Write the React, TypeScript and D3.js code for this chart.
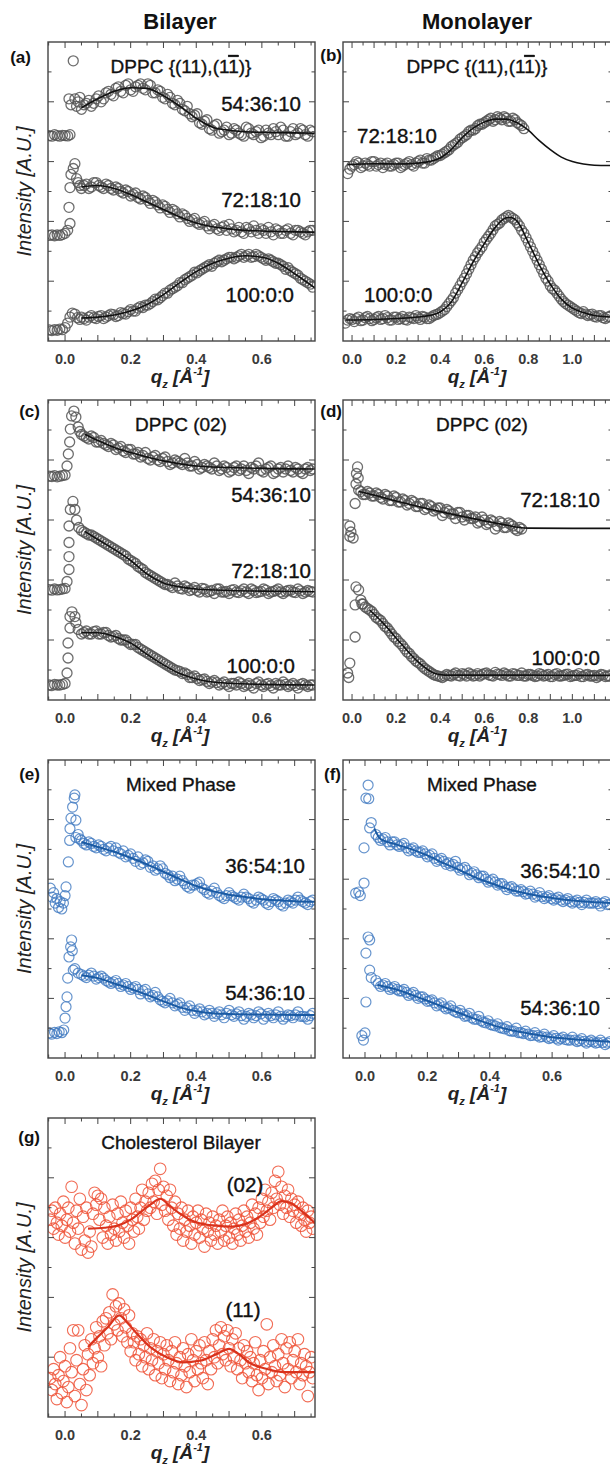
import React from "react"
import * as d3 from "d3"

type Pt = [number, number]

// sampling grids of the measured rods (second reading sits half a step later)
const STEP_L = 0.015
const STEP_R = 0.02

// ---------- (a) Bilayer DPPC {(11),(1-1)}
const a54Pre: Pt[] = [[-0.048, 6.87], [-0.04, 6.85], [-0.032, 6.9], [-0.024, 6.87], [-0.016, 6.85], [-0.008, 6.88], [0, 6.87], [0.008, 6.86], [0.015, 6.9], [0.012, 8.1], [0.018, 7.9], [0.025, 9.37], [0.03, 8.1], [0.035, 7.85], [0.04, 8.0], [0.045, 8.15]]
const a54Band = [7.75, 7.95, 7.85, 8.1, 8.0, 8.3, 8.25, 8.45, 8.35, 8.55, 8.4, 8.5, 8.6, 8.4, 8.55, 8.3, 8.35, 8.1, 8.15, 7.9, 7.95, 7.7, 7.6, 7.55, 7.3, 7.35, 7.1, 7.2, 6.95, 7.05, 6.9, 7.1, 6.95, 6.85, 7.1, 6.9, 7.05, 6.85, 6.95, 7.1, 6.9, 7.05, 6.85, 7.1, 6.95, 7.05, 6.85, 7.0]
const a54Mid = [7.9, 8.05, 7.95, 8.2, 8.1, 8.35, 8.2, 8.5, 8.3, 8.6, 8.35, 8.55, 8.45, 8.6, 8.3, 8.4, 8.15, 8.25, 7.95, 8.05, 7.75, 7.85, 7.5, 7.6, 7.25, 7.4, 7.05, 7.25, 7.0, 7.15, 6.95, 7.05, 6.9, 7.15, 6.95, 7.0, 6.8, 7.05, 6.9, 7.0, 7.15, 6.85, 7.0, 6.9, 7.1, 6.9, 7.05]
const a54Fit: Pt[] = [[0.05, 7.8], [0.1, 8.1], [0.15, 8.35], [0.2, 8.47], [0.25, 8.45], [0.3, 8.2], [0.35, 7.85], [0.4, 7.45], [0.45, 7.15], [0.5, 7.05], [0.55, 7.0], [0.6, 6.98], [0.65, 6.97], [0.7, 6.96], [0.765, 6.95]]

const a72Pre: Pt[] = [[-0.048, 3.53], [-0.04, 3.55], [-0.032, 3.52], [-0.024, 3.55], [-0.016, 3.53], [-0.008, 3.56], [0, 3.6], [0.008, 3.7], [0.015, 3.93], [0.012, 4.47], [0.015, 5.13], [0.018, 5.57], [0.025, 5.77], [0.03, 5.93], [0.035, 5.43], [0.04, 5.3], [0.045, 5.2]]
const a72Band = [5.1, 5.25, 5.15, 5.3, 5.15, 5.25, 5.1, 5.15, 5.0, 5.05, 4.85, 4.95, 4.75, 4.8, 4.6, 4.65, 4.45, 4.5, 4.3, 4.35, 4.15, 4.2, 4.0, 4.1, 3.9, 4.0, 3.75, 3.9, 3.7, 3.85, 3.9, 3.65, 3.8, 3.6, 3.75, 3.85, 3.6, 3.7, 3.8, 3.55, 3.7, 3.6, 3.75, 3.55, 3.7, 3.6, 3.65, 3.7]
const a72Mid = [5.2, 5.1, 5.3, 5.2, 5.1, 5.2, 5.05, 5.1, 4.95, 5.0, 4.9, 4.8, 4.85, 4.7, 4.7, 4.55, 4.55, 4.4, 4.4, 4.25, 4.25, 4.1, 4.05, 3.95, 3.95, 3.85, 3.85, 3.75, 3.8, 3.7, 3.75, 3.7, 3.65, 3.8, 3.65, 3.7, 3.75, 3.6, 3.65, 3.75, 3.6, 3.7, 3.6, 3.7, 3.65, 3.55, 3.7]
const a72Fit: Pt[] = [[0.05, 5.15], [0.1, 5.2], [0.15, 5.1], [0.2, 4.9], [0.25, 4.65], [0.3, 4.4], [0.35, 4.15], [0.4, 3.95], [0.45, 3.82], [0.5, 3.75], [0.55, 3.7], [0.6, 3.68], [0.65, 3.66], [0.7, 3.65], [0.765, 3.64]]

const a100Pre: Pt[] = [[-0.048, 0.37], [-0.04, 0.35], [-0.032, 0.38], [-0.024, 0.36], [-0.016, 0.4], [-0.008, 0.38], [0, 0.45], [0.008, 0.6], [0.015, 0.8], [0.022, 0.93], [0.03, 0.9], [0.038, 0.78], [0.045, 0.72]]
const a100Band = [0.8, 0.7, 0.85, 0.75, 0.85, 0.8, 0.9, 0.82, 0.95, 0.9, 1.05, 1.0, 1.15, 1.2, 1.25, 1.4, 1.45, 1.6, 1.7, 1.8, 1.95, 2.05, 2.15, 2.3, 2.35, 2.45, 2.55, 2.6, 2.7, 2.7, 2.8, 2.75, 2.85, 2.8, 2.9, 2.82, 2.85, 2.75, 2.75, 2.65, 2.6, 2.5, 2.45, 2.3, 2.2, 2.05, 1.95, 1.8]
const a100Mid = [0.75, 0.8, 0.78, 0.82, 0.75, 0.85, 0.88, 0.85, 0.92, 0.98, 1.0, 1.1, 1.12, 1.2, 1.32, 1.38, 1.52, 1.6, 1.75, 1.85, 1.95, 2.1, 2.2, 2.28, 2.4, 2.5, 2.5, 2.65, 2.65, 2.75, 2.8, 2.8, 2.9, 2.85, 2.8, 2.9, 2.8, 2.7, 2.7, 2.6, 2.55, 2.4, 2.35, 2.25, 2.1, 2.0, 1.9]
const a100Fit: Pt[] = [[0.05, 0.77], [0.1, 0.8], [0.15, 0.87], [0.2, 1.0], [0.25, 1.22], [0.3, 1.55], [0.35, 1.95], [0.4, 2.32], [0.45, 2.6], [0.5, 2.77], [0.55, 2.85], [0.6, 2.8], [0.65, 2.6], [0.7, 2.25], [0.765, 1.75]]

// ---------- (b) Monolayer DPPC {(11),(1-1)}
const b72Band = [5.6, 5.85, 6.0, 5.8, 5.95, 5.85, 6.0, 5.9, 5.8, 5.95, 5.85, 5.95, 5.8, 5.9, 6.0, 5.85, 6.0, 5.95, 6.1, 6.05, 6.15, 6.2, 6.3, 6.4, 6.55, 6.65, 6.8, 6.9, 7.05, 7.1, 7.25, 7.3, 7.4, 7.35, 7.5, 7.4, 7.45, 7.35, 7.4, 7.25, 7.1]
const b72Mid = [5.75, 5.9, 5.95, 5.85, 5.9, 6.0, 5.85, 5.95, 5.9, 5.85, 5.9, 5.95, 5.85, 5.95, 5.9, 5.95, 6.05, 5.95, 6.05, 6.1, 6.2, 6.25, 6.35, 6.5, 6.6, 6.75, 6.85, 7.0, 7.05, 7.2, 7.25, 7.35, 7.45, 7.4, 7.45, 7.5, 7.35, 7.45, 7.3, 7.2]
const b72Fit: Pt[] = [[-0.02, 5.9], [0.1, 5.93], [0.2, 5.92], [0.3, 5.95], [0.35, 6.0], [0.4, 6.12], [0.45, 6.4], [0.5, 6.8], [0.55, 7.12], [0.6, 7.32], [0.65, 7.42], [0.7, 7.42], [0.75, 7.3], [0.8, 7.05], [0.85, 6.7], [0.9, 6.4], [0.95, 6.15], [1.0, 6.0], [1.05, 5.92], [1.1, 5.88], [1.18, 5.87]]

const b100Band = [0.6, 0.75, 0.65, 0.8, 0.7, 0.82, 0.68, 0.78, 0.72, 0.85, 0.7, 0.8, 0.72, 0.82, 0.7, 0.78, 0.85, 0.72, 0.8, 0.75, 0.85, 0.9, 1.0, 1.15, 1.35, 1.6, 1.85, 2.1, 2.4, 2.7, 2.95, 3.15, 3.4, 3.6, 3.85, 3.95, 4.1, 4.2, 4.1, 3.95, 3.7, 3.45, 3.15, 2.85, 2.55, 2.25, 2.0, 1.75, 1.6, 1.4, 1.25, 1.15, 1.05, 0.95, 0.98, 0.85, 0.9, 0.8, 0.85, 0.75, 0.82]
const b100Mid = [0.7, 0.72, 0.75, 0.68, 0.78, 0.75, 0.72, 0.82, 0.75, 0.78, 0.7, 0.8, 0.75, 0.72, 0.8, 0.75, 0.78, 0.82, 0.75, 0.8, 0.88, 0.95, 1.05, 1.25, 1.45, 1.72, 1.98, 2.25, 2.55, 2.82, 3.05, 3.3, 3.5, 3.72, 3.9, 4.05, 4.15, 4.15, 4.05, 3.85, 3.6, 3.3, 3.0, 2.7, 2.4, 2.1, 1.85, 1.7, 1.5, 1.32, 1.2, 1.1, 1.0, 0.92, 0.9, 0.88, 0.82, 0.85, 0.78, 0.8]
const b100Fit: Pt[] = [[-0.03, 0.7], [0.1, 0.72], [0.2, 0.75], [0.3, 0.8], [0.35, 0.85], [0.4, 0.97], [0.45, 1.3], [0.5, 1.95], [0.55, 2.65], [0.6, 3.25], [0.65, 3.8], [0.7, 4.12], [0.72, 4.13], [0.75, 4.0], [0.8, 3.3], [0.85, 2.55], [0.9, 1.9], [0.95, 1.4], [1.0, 1.1], [1.05, 0.95], [1.1, 0.85], [1.18, 0.8]]

// ---------- (c) Bilayer DPPC (02)
const c54Pre: Pt[] = [[-0.048, 7.46], [-0.04, 7.45], [-0.032, 7.48], [-0.024, 7.44], [-0.016, 7.46], [-0.008, 7.48], [0, 7.5], [0.006, 7.8], [0.01, 8.2], [0.014, 8.6], [0.016, 9.03], [0.02, 9.47], [0.027, 9.63], [0.033, 9.43], [0.04, 9.1], [0.045, 8.95]]
const c54Band = [8.85, 8.75, 8.8, 8.6, 8.65, 8.5, 8.55, 8.35, 8.45, 8.25, 8.35, 8.2, 8.1, 8.25, 8.0, 8.15, 7.95, 8.1, 7.85, 8.0, 7.9, 8.05, 7.8, 7.95, 7.7, 7.85, 7.75, 7.9, 7.65, 7.8, 7.6, 7.75, 7.65, 7.8, 7.55, 7.7, 7.9, 7.6, 7.75, 7.55, 7.7, 7.6, 7.8, 7.6, 7.7, 7.55, 7.75, 7.7]
const c54Mid = [8.8, 8.7, 8.75, 8.6, 8.55, 8.45, 8.5, 8.4, 8.3, 8.35, 8.2, 8.25, 8.15, 8.05, 8.1, 8.0, 8.05, 7.95, 7.9, 7.95, 7.85, 7.9, 7.8, 7.85, 7.75, 7.8, 7.7, 7.8, 7.7, 7.75, 7.65, 7.8, 7.7, 7.65, 7.75, 7.8, 7.65, 7.7, 7.8, 7.6, 7.75, 7.7, 7.65, 7.75, 7.6, 7.7, 7.65]
const c54Fit: Pt[] = [[0.06, 8.86], [0.1, 8.65], [0.15, 8.42], [0.2, 8.25], [0.25, 8.1], [0.3, 7.97], [0.35, 7.87], [0.4, 7.8], [0.5, 7.75], [0.6, 7.72], [0.765, 7.7]]

const c72Pre: Pt[] = [[-0.048, 3.68], [-0.04, 3.66], [-0.032, 3.7], [-0.024, 3.67], [-0.016, 3.68], [-0.008, 3.7], [0, 3.72], [0.006, 3.95], [0.012, 4.35], [0.012, 4.78], [0.012, 5.25], [0.012, 5.8], [0.016, 6.35], [0.024, 6.62], [0.03, 6.35], [0.035, 6.0], [0.042, 5.75]]
const c72Band = [5.65, 5.55, 5.5, 5.4, 5.3, 5.2, 5.1, 5.0, 4.9, 4.8, 4.65, 4.55, 4.4, 4.25, 4.15, 4.05, 3.95, 3.85, 3.8, 3.9, 3.72, 3.8, 3.65, 3.75, 3.6, 3.7, 3.62, 3.55, 3.7, 3.6, 3.55, 3.68, 3.58, 3.7, 3.55, 3.65, 3.6, 3.7, 3.55, 3.62, 3.7, 3.55, 3.65, 3.6, 3.7, 3.55, 3.65, 3.6]
const c72Mid = [5.6, 5.5, 5.45, 5.35, 5.25, 5.15, 5.05, 4.95, 4.85, 4.7, 4.6, 4.45, 4.35, 4.2, 4.1, 4.0, 3.9, 3.85, 3.75, 3.8, 3.7, 3.75, 3.68, 3.65, 3.72, 3.6, 3.65, 3.7, 3.6, 3.62, 3.66, 3.6, 3.64, 3.6, 3.7, 3.58, 3.62, 3.66, 3.6, 3.65, 3.6, 3.62, 3.66, 3.58, 3.64, 3.6, 3.62]
const c72Fit: Pt[] = [[0.06, 5.62], [0.1, 5.35], [0.15, 5.02], [0.2, 4.65], [0.25, 4.2], [0.3, 3.9], [0.35, 3.77], [0.4, 3.7], [0.5, 3.65], [0.6, 3.63], [0.765, 3.61]]

const c100Pre: Pt[] = [[-0.048, 0.5], [-0.04, 0.48], [-0.032, 0.52], [-0.024, 0.5], [-0.016, 0.5], [-0.008, 0.52], [0, 0.55], [0.006, 0.9], [0.009, 1.4], [0.009, 1.9], [0.015, 2.4], [0.015, 2.78], [0.021, 2.94], [0.03, 2.78], [0.033, 2.58], [0.04, 2.35]]
const c100Band = [2.2, 2.3, 2.2, 2.3, 2.2, 2.25, 2.1, 2.15, 2.0, 2.0, 1.85, 1.85, 1.7, 1.6, 1.5, 1.4, 1.3, 1.2, 1.1, 1.0, 0.95, 0.9, 0.75, 0.8, 0.65, 0.7, 0.55, 0.65, 0.5, 0.6, 0.45, 0.55, 0.6, 0.45, 0.55, 0.4, 0.6, 0.45, 0.55, 0.4, 0.5, 0.6, 0.45, 0.55, 0.4, 0.55, 0.45, 0.5]
const c100Mid = [2.25, 2.2, 2.28, 2.2, 2.25, 2.15, 2.12, 2.05, 2.0, 1.92, 1.85, 1.75, 1.65, 1.55, 1.45, 1.35, 1.25, 1.15, 1.05, 0.98, 0.88, 0.85, 0.75, 0.72, 0.68, 0.62, 0.6, 0.58, 0.55, 0.52, 0.55, 0.5, 0.55, 0.5, 0.48, 0.55, 0.5, 0.52, 0.48, 0.55, 0.5, 0.52, 0.5, 0.48, 0.52, 0.5, 0.5]
const c100Fit: Pt[] = [[0.05, 2.24], [0.1, 2.24], [0.15, 2.12], [0.2, 1.9], [0.25, 1.52], [0.3, 1.17], [0.35, 0.88], [0.4, 0.7], [0.45, 0.6], [0.5, 0.56], [0.6, 0.52], [0.765, 0.5]]

// ---------- (d) Monolayer DPPC (02)
const d72Pre: Pt[] = [[-0.01, 5.45], [-0.01, 5.8], [0.005, 5.4], [0.014, 6.55], [0.018, 7.2], [0.02, 7.55], [0.025, 7.77], [0.028, 7.4], [-0.005, 5.6]]
const d72Band = [7.0, 6.85, 6.95, 6.8, 6.9, 6.75, 6.85, 6.65, 6.8, 6.6, 6.7, 6.5, 6.65, 6.45, 6.55, 6.35, 6.5, 6.3, 6.4, 6.15, 6.35, 6.2, 6.05, 6.25, 6.0, 6.15, 6.05, 5.9, 6.1, 5.85, 6.0, 5.7, 5.95, 5.75, 5.9, 5.8, 5.65, 5.7]
const d72Mid = [6.95, 6.85, 6.9, 6.8, 6.85, 6.7, 6.8, 6.65, 6.75, 6.6, 6.65, 6.55, 6.6, 6.45, 6.55, 6.4, 6.45, 6.35, 6.4, 6.25, 6.3, 6.2, 6.25, 6.1, 6.15, 6.05, 6.1, 5.95, 6.0, 5.9, 5.95, 5.8, 5.9, 5.75, 5.85, 5.7, 5.75]
const d72Fit: Pt[] = [[0.03, 6.95], [0.1, 6.83], [0.2, 6.63], [0.3, 6.45], [0.4, 6.28], [0.5, 6.12], [0.6, 5.97], [0.7, 5.83], [0.76, 5.75], [0.8, 5.73], [1.0, 5.72], [1.18, 5.72]]

const d100Pre: Pt[] = [[-0.02, 0.9], [-0.015, 0.75], [-0.01, 1.23], [0.014, 2.1], [0.014, 3.17], [0.018, 3.77], [0.03, 3.67], [0.04, 3.33], [0.045, 3.2]]
const d100Band = [3.2, 3.05, 2.95, 2.75, 2.65, 2.45, 2.3, 2.1, 1.95, 1.8, 1.6, 1.45, 1.3, 1.2, 1.05, 0.95, 0.85, 0.8, 0.75, 0.85, 0.8, 0.9, 0.8, 0.85, 0.9, 0.8, 0.88, 0.85, 0.9, 0.82, 0.92, 0.85, 0.9, 0.8, 0.88, 0.82, 0.9, 0.8, 0.85, 0.78, 0.88, 0.8, 0.85, 0.78, 0.88, 0.8, 0.85, 0.78, 0.82, 0.88, 0.78, 0.85, 0.8, 0.75, 0.85, 0.78, 0.8]
const d100Mid = [3.1, 3.0, 2.85, 2.7, 2.55, 2.4, 2.2, 2.05, 1.88, 1.7, 1.55, 1.38, 1.25, 1.12, 1.0, 0.9, 0.82, 0.78, 0.8, 0.82, 0.85, 0.82, 0.88, 0.8, 0.85, 0.82, 0.8, 0.88, 0.84, 0.8, 0.86, 0.82, 0.85, 0.8, 0.86, 0.82, 0.8, 0.85, 0.82, 0.8, 0.85, 0.82, 0.78, 0.85, 0.8, 0.82, 0.86, 0.8, 0.82, 0.78, 0.84, 0.8, 0.82, 0.8, 0.84, 0.8]
const d100Fit: Pt[] = [[0.08, 3.0], [0.14, 2.57], [0.22, 1.9], [0.3, 1.27], [0.37, 0.9], [0.42, 0.83], [0.6, 0.83], [0.8, 0.83], [1.0, 0.82], [1.18, 0.82]]

// ---------- (e) Bilayer mixed phase
const e36Pre: Pt[] = [[-0.045, 5.7], [-0.04, 5.4], [-0.035, 5.55], [-0.03, 5.2], [-0.025, 5.35], [-0.02, 5.05], [-0.015, 5.25], [-0.01, 5.0], [-0.005, 5.2], [0, 5.45], [0.003, 5.74], [0.01, 6.58], [0.014, 7.3], [0.015, 7.7], [0.018, 8.05], [0.023, 8.42], [0.028, 8.72], [0.03, 8.83], [0.033, 7.98], [0.033, 7.4], [0.04, 7.5], [0.045, 7.35]]
const e36Band = [7.3, 7.15, 7.2, 7.05, 7.1, 6.95, 7.1, 7.05, 6.85, 6.75, 6.85, 6.6, 6.5, 6.65, 6.4, 6.3, 6.45, 6.2, 6.05, 5.95, 6.1, 5.85, 5.7, 5.8, 5.9, 5.65, 5.5, 5.7, 5.45, 5.35, 5.55, 5.4, 5.3, 5.5, 5.35, 5.2, 5.4, 5.3, 5.15, 5.35, 5.25, 5.1, 5.3, 5.2, 5.4, 5.25, 5.15, 5.3]
const e36Mid = [7.2, 7.25, 7.1, 7.15, 7.0, 7.05, 6.95, 6.9, 6.95, 6.8, 6.7, 6.75, 6.55, 6.6, 6.45, 6.35, 6.35, 6.15, 6.1, 6.0, 5.95, 5.75, 5.8, 5.85, 5.7, 5.55, 5.6, 5.55, 5.4, 5.45, 5.45, 5.35, 5.4, 5.4, 5.25, 5.3, 5.35, 5.2, 5.25, 5.3, 5.15, 5.2, 5.25, 5.3, 5.3, 5.2, 5.25]
const e36Fit: Pt[] = [[0.05, 7.25], [0.1, 7.08], [0.15, 6.92], [0.2, 6.72], [0.25, 6.5], [0.3, 6.25], [0.35, 6.0], [0.4, 5.77], [0.45, 5.6], [0.5, 5.48], [0.55, 5.4], [0.6, 5.33], [0.65, 5.29], [0.7, 5.26], [0.765, 5.24]]

const e54Pre: Pt[] = [[-0.048, 0.84], [-0.04, 0.8], [-0.032, 0.86], [-0.025, 0.82], [-0.018, 0.88], [-0.01, 0.85], [-0.004, 0.94], [0, 1.34], [0.003, 1.72], [0.006, 2.05], [0.008, 2.68], [0.012, 3.39], [0.017, 3.73], [0.02, 3.96], [0.022, 3.6], [0.025, 2.95], [0.03, 3.0], [0.04, 2.85]]
const e54Band = [2.8, 2.7, 2.85, 2.65, 2.75, 2.6, 2.5, 2.6, 2.4, 2.5, 2.3, 2.4, 2.15, 2.3, 2.05, 2.2, 1.95, 1.85, 2.0, 1.75, 1.85, 1.6, 1.75, 1.5, 1.65, 1.45, 1.6, 1.4, 1.55, 1.35, 1.6, 1.4, 1.55, 1.3, 1.5, 1.35, 1.55, 1.3, 1.5, 1.35, 1.55, 1.3, 1.45, 1.35, 1.55, 1.4, 1.3, 1.5]
const e54Mid = [2.75, 2.78, 2.75, 2.7, 2.68, 2.55, 2.55, 2.5, 2.45, 2.4, 2.35, 2.3, 2.25, 2.15, 2.1, 2.05, 1.9, 1.92, 1.85, 1.8, 1.7, 1.68, 1.6, 1.58, 1.55, 1.5, 1.5, 1.48, 1.45, 1.5, 1.45, 1.48, 1.42, 1.4, 1.45, 1.42, 1.48, 1.4, 1.42, 1.45, 1.4, 1.38, 1.42, 1.45, 1.4, 1.38, 1.42]
const e54Fit: Pt[] = [[0.05, 2.78], [0.1, 2.68], [0.15, 2.5], [0.2, 2.32], [0.25, 2.12], [0.3, 1.9], [0.35, 1.7], [0.4, 1.57], [0.45, 1.5], [0.5, 1.48], [0.6, 1.46], [0.765, 1.44]]

// ---------- (f) Monolayer mixed phase
const f36Pre: Pt[] = [[0.01, 9.16], [0.003, 8.72], [0.012, 8.7], [0.015, 7.72], [-0.003, 7.05], [-0.003, 5.87], [-0.02, 5.57], [-0.03, 5.53], [-0.015, 5.45], [0.02, 7.9]]
const f36Band = [7.5, 7.3, 7.4, 7.15, 7.25, 7.1, 7.2, 6.95, 7.05, 6.9, 6.95, 6.75, 6.85, 6.6, 6.7, 6.5, 6.45, 6.6, 6.3, 6.4, 6.15, 6.25, 6.05, 6.1, 5.9, 6.0, 5.8, 5.85, 5.65, 5.75, 5.6, 5.65, 5.5, 5.6, 5.4, 5.55, 5.35, 5.45, 5.3, 5.4, 5.25, 5.35, 5.2, 5.3, 5.15, 5.3, 5.2, 5.25, 5.1, 5.25, 5.15]
const f36Mid = [7.4, 7.35, 7.25, 7.25, 7.15, 7.15, 7.05, 7.0, 6.95, 6.9, 6.85, 6.8, 6.7, 6.65, 6.6, 6.55, 6.5, 6.4, 6.35, 6.3, 6.2, 6.15, 6.1, 6.0, 5.95, 5.9, 5.85, 5.75, 5.72, 5.68, 5.6, 5.58, 5.52, 5.5, 5.45, 5.42, 5.4, 5.35, 5.35, 5.3, 5.3, 5.25, 5.25, 5.22, 5.22, 5.2, 5.2, 5.18, 5.2, 5.15]
const f36Fit: Pt[] = [[0.03, 7.7], [0.05, 7.35], [0.1, 7.17], [0.15, 7.0], [0.2, 6.8], [0.25, 6.55], [0.3, 6.32], [0.35, 6.08], [0.4, 5.88], [0.45, 5.7], [0.5, 5.56], [0.55, 5.45], [0.6, 5.37], [0.65, 5.3], [0.7, 5.25], [0.795, 5.2]]

const f54Pre: Pt[] = [[-0.005, 0.6], [0, 0.84], [0.003, 1.88], [0.003, 3.52], [0.015, 3.96], [0.01, 4.06], [0.015, 2.95], [0.02, 2.7], [-0.01, 0.75]]
const f54Band = [2.6, 2.4, 2.5, 2.3, 2.4, 2.25, 2.3, 2.1, 2.2, 2.0, 2.05, 1.9, 1.95, 1.75, 1.85, 1.65, 1.75, 1.55, 1.6, 1.4, 1.5, 1.3, 1.4, 1.2, 1.25, 1.1, 1.15, 1.0, 1.05, 0.9, 1.0, 0.85, 0.9, 0.75, 0.85, 0.7, 0.8, 0.65, 0.75, 0.6, 0.7, 0.6, 0.7, 0.55, 0.65, 0.5, 0.6, 0.5, 0.6, 0.45, 0.55]
const f54Mid = [2.5, 2.45, 2.4, 2.35, 2.3, 2.25, 2.2, 2.15, 2.1, 2.05, 1.98, 1.92, 1.85, 1.8, 1.72, 1.68, 1.6, 1.52, 1.48, 1.42, 1.35, 1.3, 1.25, 1.18, 1.12, 1.08, 1.02, 0.98, 0.92, 0.9, 0.85, 0.82, 0.8, 0.76, 0.75, 0.72, 0.7, 0.68, 0.66, 0.65, 0.62, 0.6, 0.6, 0.58, 0.56, 0.55, 0.54, 0.52, 0.52, 0.5]
const f54Fit: Pt[] = [[0.04, 2.45], [0.1, 2.3], [0.15, 2.12], [0.2, 1.92], [0.25, 1.72], [0.3, 1.52], [0.35, 1.32], [0.4, 1.14], [0.45, 0.98], [0.5, 0.87], [0.55, 0.78], [0.6, 0.7], [0.65, 0.65], [0.7, 0.6], [0.795, 0.54]]

// ---------- (g) Cholesterol bilayer
const g02Pts: Pt[] = [[-0.045, 6.6], [-0.04, 6.9], [-0.035, 6.3], [-0.03, 7.0], [-0.025, 6.5], [-0.02, 6.1], [-0.015, 6.8], [-0.01, 6.4], [-0.005, 7.2], [0, 6.0], [0.005, 6.6], [0.01, 7.0], [0.015, 6.2], [0.02, 7.7], [0.025, 6.5], [0.03, 5.8], [0.035, 6.9], [0.04, 6.3], [0.045, 7.3], [0.05, 5.6], [0.055, 6.7], [0.06, 5.9], [0.065, 7.0], [0.07, 5.5], [0.075, 6.2], [0.08, 5.7], [0.085, 6.8], [0.09, 7.5], [0.095, 7.1], [0.1, 7.4], [0.105, 6.6], [0.11, 7.3], [0.115, 6.0], [0.12, 7.0], [0.125, 6.4], [0.13, 5.8], [0.135, 6.7], [0.14, 6.1], [0.145, 7.1], [0.15, 6.3], [0.155, 5.9], [0.16, 6.8], [0.165, 6.2], [0.17, 7.2], [0.175, 6.5], [0.18, 6.0], [0.185, 6.9], [0.19, 6.4], [0.195, 5.8], [0.2, 7.0], [0.205, 6.6], [0.21, 6.2], [0.215, 7.3], [0.22, 6.7], [0.225, 6.3], [0.23, 7.0], [0.235, 7.6], [0.24, 6.6], [0.245, 7.2], [0.25, 6.9], [0.255, 7.5], [0.26, 7.0], [0.265, 7.8], [0.27, 7.2], [0.275, 7.9], [0.28, 6.8], [0.285, 7.6], [0.29, 8.3], [0.295, 7.1], [0.3, 7.7], [0.305, 6.9], [0.31, 7.4], [0.315, 6.6], [0.32, 7.6], [0.325, 7.0], [0.33, 6.4], [0.335, 7.2], [0.34, 6.1], [0.345, 6.8], [0.35, 6.3], [0.355, 7.0], [0.36, 5.9], [0.365, 6.6], [0.37, 6.2], [0.375, 6.9], [0.38, 6.4], [0.385, 5.8], [0.39, 6.7], [0.395, 6.1], [0.4, 6.5], [0.405, 6.9], [0.41, 6.0], [0.415, 6.6], [0.42, 6.3], [0.425, 5.7], [0.43, 6.8], [0.435, 6.2], [0.44, 6.5], [0.445, 5.9], [0.45, 6.7], [0.455, 6.1], [0.46, 6.4], [0.465, 5.8], [0.47, 6.6], [0.475, 6.2], [0.48, 6.9], [0.485, 5.9], [0.49, 6.4], [0.495, 6.7], [0.5, 6.0], [0.505, 6.5], [0.51, 5.8], [0.515, 6.3], [0.52, 6.8], [0.525, 6.1], [0.53, 6.6], [0.535, 5.9], [0.54, 6.4], [0.545, 6.9], [0.55, 6.2], [0.555, 6.7], [0.56, 6.0], [0.565, 6.5], [0.57, 7.1], [0.575, 6.3], [0.58, 6.8], [0.585, 6.1], [0.59, 7.0], [0.595, 6.5], [0.6, 7.3], [0.605, 6.7], [0.61, 7.6], [0.615, 6.9], [0.62, 7.2], [0.625, 6.6], [0.63, 7.5], [0.635, 7.0], [0.64, 7.9], [0.645, 7.3], [0.65, 8.2], [0.655, 7.1], [0.66, 7.7], [0.665, 6.8], [0.67, 7.4], [0.675, 7.0], [0.68, 7.6], [0.685, 6.7], [0.69, 7.3], [0.695, 6.9], [0.7, 7.1], [0.705, 6.5], [0.71, 7.2], [0.715, 6.8], [0.72, 6.4], [0.725, 7.0], [0.73, 6.6], [0.735, 6.2], [0.74, 6.9], [0.745, 6.5], [0.75, 6.7], [0.755, 6.3]]
const g02Fit: Pt[] = [[0.07, 6.3], [0.12, 6.33], [0.16, 6.4], [0.2, 6.6], [0.23, 6.85], [0.26, 7.1], [0.29, 7.3], [0.32, 7.05], [0.35, 6.8], [0.38, 6.6], [0.41, 6.48], [0.46, 6.4], [0.51, 6.37], [0.55, 6.45], [0.6, 6.75], [0.63, 7.0], [0.66, 7.22], [0.69, 7.15], [0.72, 6.9], [0.765, 6.45]]

const g11Pts: Pt[] = [[-0.045, 1.3], [-0.04, 0.9], [-0.035, 1.6], [-0.03, 1.1], [-0.025, 0.6], [-0.02, 1.4], [-0.015, 2.0], [-0.01, 0.8], [-0.005, 1.2], [0, 1.7], [0.005, 0.5], [0.01, 1.0], [0.015, 2.3], [0.02, 1.5], [0.025, 2.9], [0.03, 0.7], [0.035, 1.9], [0.04, 2.9], [0.045, 1.1], [0.05, 0.4], [0.055, 1.6], [0.06, 2.4], [0.065, 0.9], [0.07, 2.1], [0.075, 1.4], [0.08, 2.6], [0.085, 1.8], [0.09, 2.3], [0.095, 3.0], [0.1, 2.0], [0.105, 2.7], [0.11, 1.7], [0.115, 3.2], [0.12, 2.4], [0.125, 3.3], [0.13, 2.8], [0.135, 3.5], [0.14, 2.6], [0.145, 4.1], [0.15, 3.1], [0.155, 3.7], [0.16, 2.9], [0.165, 3.8], [0.17, 3.3], [0.175, 2.7], [0.18, 3.6], [0.185, 3.0], [0.19, 2.5], [0.195, 3.4], [0.2, 2.2], [0.205, 2.8], [0.21, 2.5], [0.215, 1.9], [0.22, 2.7], [0.225, 2.1], [0.23, 2.6], [0.235, 1.7], [0.24, 2.4], [0.245, 2.0], [0.25, 2.8], [0.255, 1.6], [0.26, 2.3], [0.265, 1.9], [0.27, 2.6], [0.275, 1.4], [0.28, 2.2], [0.285, 1.8], [0.29, 2.5], [0.295, 1.3], [0.3, 2.1], [0.305, 1.6], [0.31, 2.4], [0.315, 1.9], [0.32, 1.2], [0.325, 2.2], [0.33, 1.5], [0.335, 2.5], [0.34, 1.8], [0.345, 1.1], [0.35, 2.0], [0.355, 1.4], [0.36, 2.3], [0.365, 1.7], [0.37, 1.0], [0.375, 2.1], [0.38, 1.5], [0.385, 2.6], [0.39, 1.9], [0.395, 1.2], [0.4, 2.2], [0.405, 1.6], [0.41, 2.4], [0.415, 1.8], [0.42, 1.3], [0.425, 2.5], [0.43, 1.9], [0.435, 1.1], [0.44, 2.2], [0.445, 1.6], [0.45, 2.6], [0.455, 2.0], [0.46, 2.9], [0.465, 1.8], [0.47, 2.4], [0.475, 3.0], [0.48, 2.1], [0.485, 2.7], [0.49, 1.9], [0.495, 2.9], [0.5, 2.3], [0.505, 1.7], [0.51, 2.6], [0.515, 2.0], [0.52, 2.8], [0.525, 1.6], [0.53, 2.3], [0.535, 1.9], [0.54, 1.3], [0.545, 2.4], [0.55, 1.8], [0.555, 2.2], [0.56, 1.5], [0.565, 2.0], [0.57, 1.2], [0.575, 1.8], [0.58, 2.5], [0.585, 1.4], [0.59, 0.9], [0.595, 1.9], [0.6, 1.3], [0.605, 2.2], [0.61, 1.6], [0.615, 3.1], [0.62, 1.1], [0.625, 2.0], [0.63, 1.5], [0.635, 2.4], [0.64, 1.7], [0.645, 1.2], [0.65, 2.1], [0.655, 1.4], [0.66, 2.6], [0.665, 1.8], [0.67, 1.0], [0.675, 2.3], [0.68, 1.6], [0.685, 2.5], [0.69, 1.3], [0.695, 1.9], [0.7, 2.2], [0.705, 1.5], [0.71, 2.6], [0.715, 1.1], [0.72, 1.8], [0.725, 1.4], [0.73, 2.1], [0.735, 1.7], [0.74, 0.7], [0.745, 1.5], [0.75, 2.0], [0.755, 1.3]]
const g11Fit: Pt[] = [[0.07, 2.34], [0.1, 2.68], [0.13, 3.0], [0.165, 3.4], [0.19, 3.15], [0.21, 2.9], [0.26, 2.34], [0.31, 2.0], [0.36, 1.83], [0.41, 1.88], [0.465, 2.12], [0.5, 2.28], [0.53, 2.1], [0.56, 1.83], [0.61, 1.62], [0.67, 1.5], [0.765, 1.5]]

// ---------- helpers / layout
const grid = (q0: number, dq: number, vals: number[]): Pt[] => vals.map((v, i) => [q0 + i * dq, v])
const rod = (q0: number, dq: number, band: number[], mid: number[]): Pt[] => [...grid(q0, dq, band), ...grid(q0 + dq / 2, dq, mid)]

const FONT = "'Liberation Sans', Arial, Helvetica, sans-serif"
const GRAY = { pt: "#555", line: "#111", r: 5, sw: 1.3, lw: 1.6, op: 0.85 }
const BLUE = { pt: "#4079c0", line: "#1a5aa3", r: 5, sw: 1.2, lw: 2, op: 0.8 }
const RED = { pt: "#ef5237", line: "#d9321c", r: 5.8, sw: 1.1, lw: 2.2, op: 0.85 }

interface Lbl { t: string; x: number; y: number; a?: "start" | "middle" | "end" }
interface Series { pts: Pt[]; fit: Pt[] }
interface PanelDef {
  id: string
  x0: number; x1: number; y0: number; y1: number
  q: [number, number]
  qMax: number
  col: typeof GRAY
  series: Series[]
  title: string
  titleX: number
  bar?: boolean
  labels: Lbl[]
  yLabel?: boolean
  axisX: number
  tag: [number, number]
}

const LQ: [number, number] = [-0.052, 0.762]
const RQ: [number, number] = [-0.041, 1.18]

const panels: PanelDef[] = [
  {
    id: "a", x0: 48, x1: 315, y0: 42, y1: 341, q: LQ, qMax: 0.6, col: GRAY, yLabel: true, axisX: 180, tag: [31, 63],
    title: "DPPC {(11),(1", titleX: 181, bar: true,
    series: [
      { pts: [...a54Pre, ...rod(0.05, STEP_L, a54Band, a54Mid)], fit: a54Fit },
      { pts: [...a72Pre, ...rod(0.05, STEP_L, a72Band, a72Mid)], fit: a72Fit },
      { pts: [...a100Pre, ...rod(0.05, STEP_L, a100Band, a100Mid)], fit: a100Fit },
    ],
    labels: [{ t: "54:36:10", x: 301, y: 111, a: "end" }, { t: "72:18:10", x: 301, y: 207, a: "end" }, { t: "100:0:0", x: 294, y: 302, a: "end" }],
  },
  {
    id: "b", x0: 343, x1: 612, y0: 42, y1: 341, q: RQ, qMax: 1.0, col: GRAY, axisX: 477, tag: [342, 61],
    title: "DPPC {(11),(1", titleX: 477, bar: true,
    series: [
      { pts: rod(-0.02, STEP_R, b72Band, b72Mid), fit: b72Fit },
      { pts: rod(-0.03, STEP_R, b100Band, b100Mid), fit: b100Fit },
    ],
    labels: [{ t: "72:18:10", x: 357, y: 143 }, { t: "100:0:0", x: 364, y: 302 }],
  },
  {
    id: "c", x0: 48, x1: 315, y0: 400, y1: 700, q: LQ, qMax: 0.6, col: GRAY, yLabel: true, axisX: 180, tag: [40, 417],
    title: "DPPC (02)", titleX: 181,
    series: [
      { pts: [...c54Pre, ...rod(0.05, STEP_L, c54Band, c54Mid)], fit: c54Fit },
      { pts: [...c72Pre, ...rod(0.05, STEP_L, c72Band, c72Mid)], fit: c72Fit },
      { pts: [...c100Pre, ...rod(0.05, STEP_L, c100Band, c100Mid)], fit: c100Fit },
    ],
    labels: [{ t: "54:36:10", x: 311, y: 502, a: "end" }, { t: "72:18:10", x: 311, y: 578, a: "end" }, { t: "100:0:0", x: 295, y: 673, a: "end" }],
  },
  {
    id: "d", x0: 343, x1: 612, y0: 400, y1: 700, q: RQ, qMax: 1.0, col: GRAY, axisX: 477, tag: [342, 417],
    title: "DPPC (02)", titleX: 482,
    series: [
      { pts: [...d72Pre, ...rod(0.03, STEP_R, d72Band, d72Mid)], fit: d72Fit },
      { pts: [...d100Pre, ...rod(0.05, STEP_R, d100Band, d100Mid)], fit: d100Fit },
    ],
    labels: [{ t: "72:18:10", x: 600, y: 507, a: "end" }, { t: "100:0:0", x: 600, y: 665, a: "end" }],
  },
  {
    id: "e", x0: 48, x1: 315, y0: 760, y1: 1058, q: LQ, qMax: 0.6, col: BLUE, yLabel: true, axisX: 180, tag: [40, 780],
    title: "Mixed Phase", titleX: 181,
    series: [
      { pts: [...e36Pre, ...rod(0.05, STEP_L, e36Band, e36Mid)], fit: e36Fit },
      { pts: [...e54Pre, ...rod(0.05, STEP_L, e54Band, e54Mid)], fit: e54Fit },
    ],
    labels: [{ t: "36:54:10", x: 305, y: 873, a: "end" }, { t: "54:36:10", x: 305, y: 1000, a: "end" }],
  },
  {
    id: "f", x0: 343, x1: 612, y0: 760, y1: 1058, q: [-0.0705, 0.792], qMax: 0.6, col: BLUE, axisX: 477, tag: [341, 780],
    title: "Mixed Phase", titleX: 482,
    series: [
      { pts: [...f36Pre, ...rod(0.035, STEP_L, f36Band, f36Mid)], fit: f36Fit },
      { pts: [...f54Pre, ...rod(0.035, STEP_L, f54Band, f54Mid)], fit: f54Fit },
    ],
    labels: [{ t: "36:54:10", x: 600, y: 878, a: "end" }, { t: "54:36:10", x: 600, y: 1015, a: "end" }],
  },
  {
    id: "g", x0: 48, x1: 315, y0: 1118, y1: 1417, q: LQ, qMax: 0.6, col: RED, yLabel: true, axisX: 180, tag: [40, 1143],
    title: "Cholesterol Bilayer", titleX: 181,
    series: [
      { pts: g02Pts, fit: g02Fit },
      { pts: g11Pts, fit: g11Fit },
    ],
    labels: [{ t: "(02)", x: 245, y: 1192, a: "middle" }, { t: "(11)", x: 243, y: 1317, a: "middle" }],
  },
]

// thin outline that gives the scanned figure's heavier type
const heavy = { stroke: "#111", strokeWidth: 0.35 }

function Panel({ p }: { p: PanelDef }) {
  const x = d3.scaleLinear().domain(p.q).range([p.x0, p.x1])
  const y = d3.scaleLinear().domain([0, 10]).range([p.y1, p.y0])
  const line = d3.line<Pt>().x((d) => x(d[0])).y((d) => y(d[1])).curve(d3.curveMonotoneX)
  const xTicks = d3.range(Math.ceil(p.q[0] / 0.05) * 0.05, p.q[1], 0.05)
  const xLabels = d3.range(0, p.qMax + 1e-6, 0.2)
  const yTicks = d3.range(1, 10)
  const fmt = d3.format(".1f")
  const clip = `clip-${p.id}`
  const isMajor = (q: number) => Math.abs(q / 0.1 - Math.round(q / 0.1)) < 1e-6
  return (
    <g>
      <defs>
        <clipPath id={clip}>
          <rect x={p.x0} y={p.y0} width={p.x1 - p.x0} height={p.y1 - p.y0} />
        </clipPath>
      </defs>
      <g clipPath={`url(#${clip})`}>
        {p.series.map((s, i) => (
          <g key={i}>
            {s.pts.map((d, j) => (
              <circle key={j} cx={x(d[0])} cy={y(d[1])} r={p.col.r} fill="none" stroke={p.col.pt} strokeWidth={p.col.sw} opacity={p.col.op} />
            ))}
            <path d={line(s.fit) ?? ""} fill="none" stroke={p.col.line} strokeWidth={p.col.lw} />
          </g>
        ))}
      </g>
      <rect x={p.x0} y={p.y0} width={p.x1 - p.x0} height={p.y1 - p.y0} fill="none" stroke="#444" strokeWidth={1.4} />
      {xTicks.map((q, i) => {
        const len = isMajor(q) ? 6 : 3.5
        return (
          <g key={i} stroke="#444" strokeWidth={1}>
            <line x1={x(q)} x2={x(q)} y1={p.y1} y2={p.y1 - len} />
            <line x1={x(q)} x2={x(q)} y1={p.y0} y2={p.y0 + len} />
          </g>
        )
      })}
      {yTicks.map((v) => {
        const len = v % 2 === 0 ? 6 : 3.5
        return (
          <g key={v} stroke="#444" strokeWidth={1}>
            <line x1={p.x0} x2={p.x0 + len} y1={y(v)} y2={y(v)} />
            <line x1={p.x1} x2={p.x1 - len} y1={y(v)} y2={y(v)} />
          </g>
        )
      })}
      {xLabels.map((q) => (
        <text key={q} x={x(q)} y={p.y1 + 23} textAnchor="middle" fontSize={14.5} fontWeight="bold" fill="#3a3a3a">
          {fmt(q)}
        </text>
      ))}
      <text x={p.axisX} y={p.y1 + 42} textAnchor="middle" fontSize={19} fontWeight="bold" fontStyle="italic" fill="#222">
        q<tspan fontSize={11} dy={5}>z</tspan>
        <tspan dy={-5}> [Å</tspan>
        <tspan fontSize={11} dy={-8}>-1</tspan>
        <tspan dy={8}>]</tspan>
      </text>
      {p.yLabel && (
        <text transform={`translate(31,${(p.y0 + p.y1) / 2}) rotate(-90)`} textAnchor="middle" fontSize={20} fontStyle="italic" fill="#222">
          Intensity [A.U.]
        </text>
      )}
      <text x={p.tag[0]} y={p.tag[1]} textAnchor="end" fontSize={17} fontWeight="bold" fill="#111">
        ({p.id})
      </text>
      <text x={p.titleX} y={p.y0 + 31} textAnchor="middle" fontSize={19} fill="#111" {...heavy}>
        {p.title}
        {p.bar && (
          <>
            <tspan style={{ textDecoration: "overline" }}>1</tspan>
            <tspan>{")}"}</tspan>
          </>
        )}
      </text>
      {p.labels.map((l) => (
        <text key={l.t} x={l.x} y={l.y} textAnchor={l.a ?? "start"} fontSize={20.5} fill="#111" {...heavy}>
          {l.t}
        </text>
      ))}
    </g>
  )
}

export default function App() {
  return (
    <>
      <style>{"body{margin:0;background:#fff}"}</style>
      <svg width={610} height={1470} style={{ display: "block", fontFamily: FONT }}>
        <rect width={610} height={1470} fill="#fff" />
        <text x={180} y={29} textAnchor="middle" fontSize={22} fontWeight="bold" fill="#111">Bilayer</text>
        <text x={477} y={29} textAnchor="middle" fontSize={22} fontWeight="bold" fill="#111">Monolayer</text>
        {panels.map((p) => (
          <Panel key={p.id} p={p} />
        ))}
      </svg>
    </>
  )
}
